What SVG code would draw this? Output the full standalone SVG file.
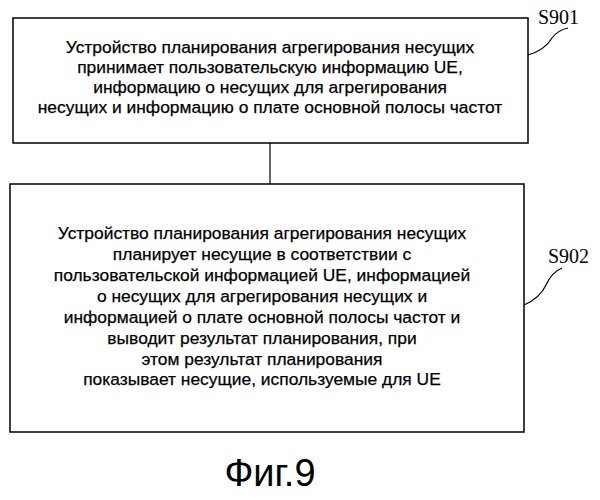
<svg xmlns="http://www.w3.org/2000/svg" width="600" height="500" viewBox="0 0 600 500">
<style>
.b{fill:#fff;stroke:#000;stroke-width:1.5}
.t{font-family:"Liberation Sans",Arial,sans-serif;font-size:17.4px;text-anchor:middle;fill:#000;stroke:#000;stroke-width:0.25}
.l{font-family:"Liberation Serif",serif;font-size:20px;fill:#000}
.c{fill:none;stroke:#000;stroke-width:1.2}
</style>
<rect width="600" height="500" fill="#fff"/>
<g id="connectors">
<line class="c" x1="270" y1="143" x2="270" y2="184"/>
<path class="c" d="M528,55 Q545,50 552,38 Q558,30 568,28"/>
<path class="c" d="M524,305 Q540,298 546,285 Q552,272 562,268"/>
</g>
<g id="n1">
<rect class="b" x="13" y="18" width="515" height="125"/>
<text class="t" x="270" y="53">Устройство планирования агрегирования несущих</text>
<text class="t" x="270" y="73">принимает пользовательскую информацию UE,</text>
<text class="t" x="270" y="93">информацию о несущих для агрегирования</text>
<text class="t" x="270" y="113">несущих и информацию о плате основной полосы частот</text>
</g>
<g id="n2">
<rect class="b" x="10" y="184" width="514" height="248"/>
<text class="t" x="262" y="239">Устройство планирования агрегирования несущих</text>
<text class="t" x="262" y="260">планирует несущие в соответствии с</text>
<text class="t" x="262" y="281">пользовательской информацией UE, информацией</text>
<text class="t" x="262" y="302">о несущих для агрегирования несущих и</text>
<text class="t" x="262" y="323">информацией о плате основной полосы частот  и</text>
<text class="t" x="262" y="344">выводит результат планирования, при</text>
<text class="t" x="262" y="365">этом результат планирования</text>
<text class="t" x="262" y="385">показывает несущие, используемые для UE</text>
</g>
<text class="l" x="538" y="24">S901</text>
<text class="l" x="548" y="263">S902</text>
<text x="270" y="486" style="font-family:'Liberation Sans',Arial,sans-serif;font-size:38px;text-anchor:middle">Фиг.9</text>
</svg>
